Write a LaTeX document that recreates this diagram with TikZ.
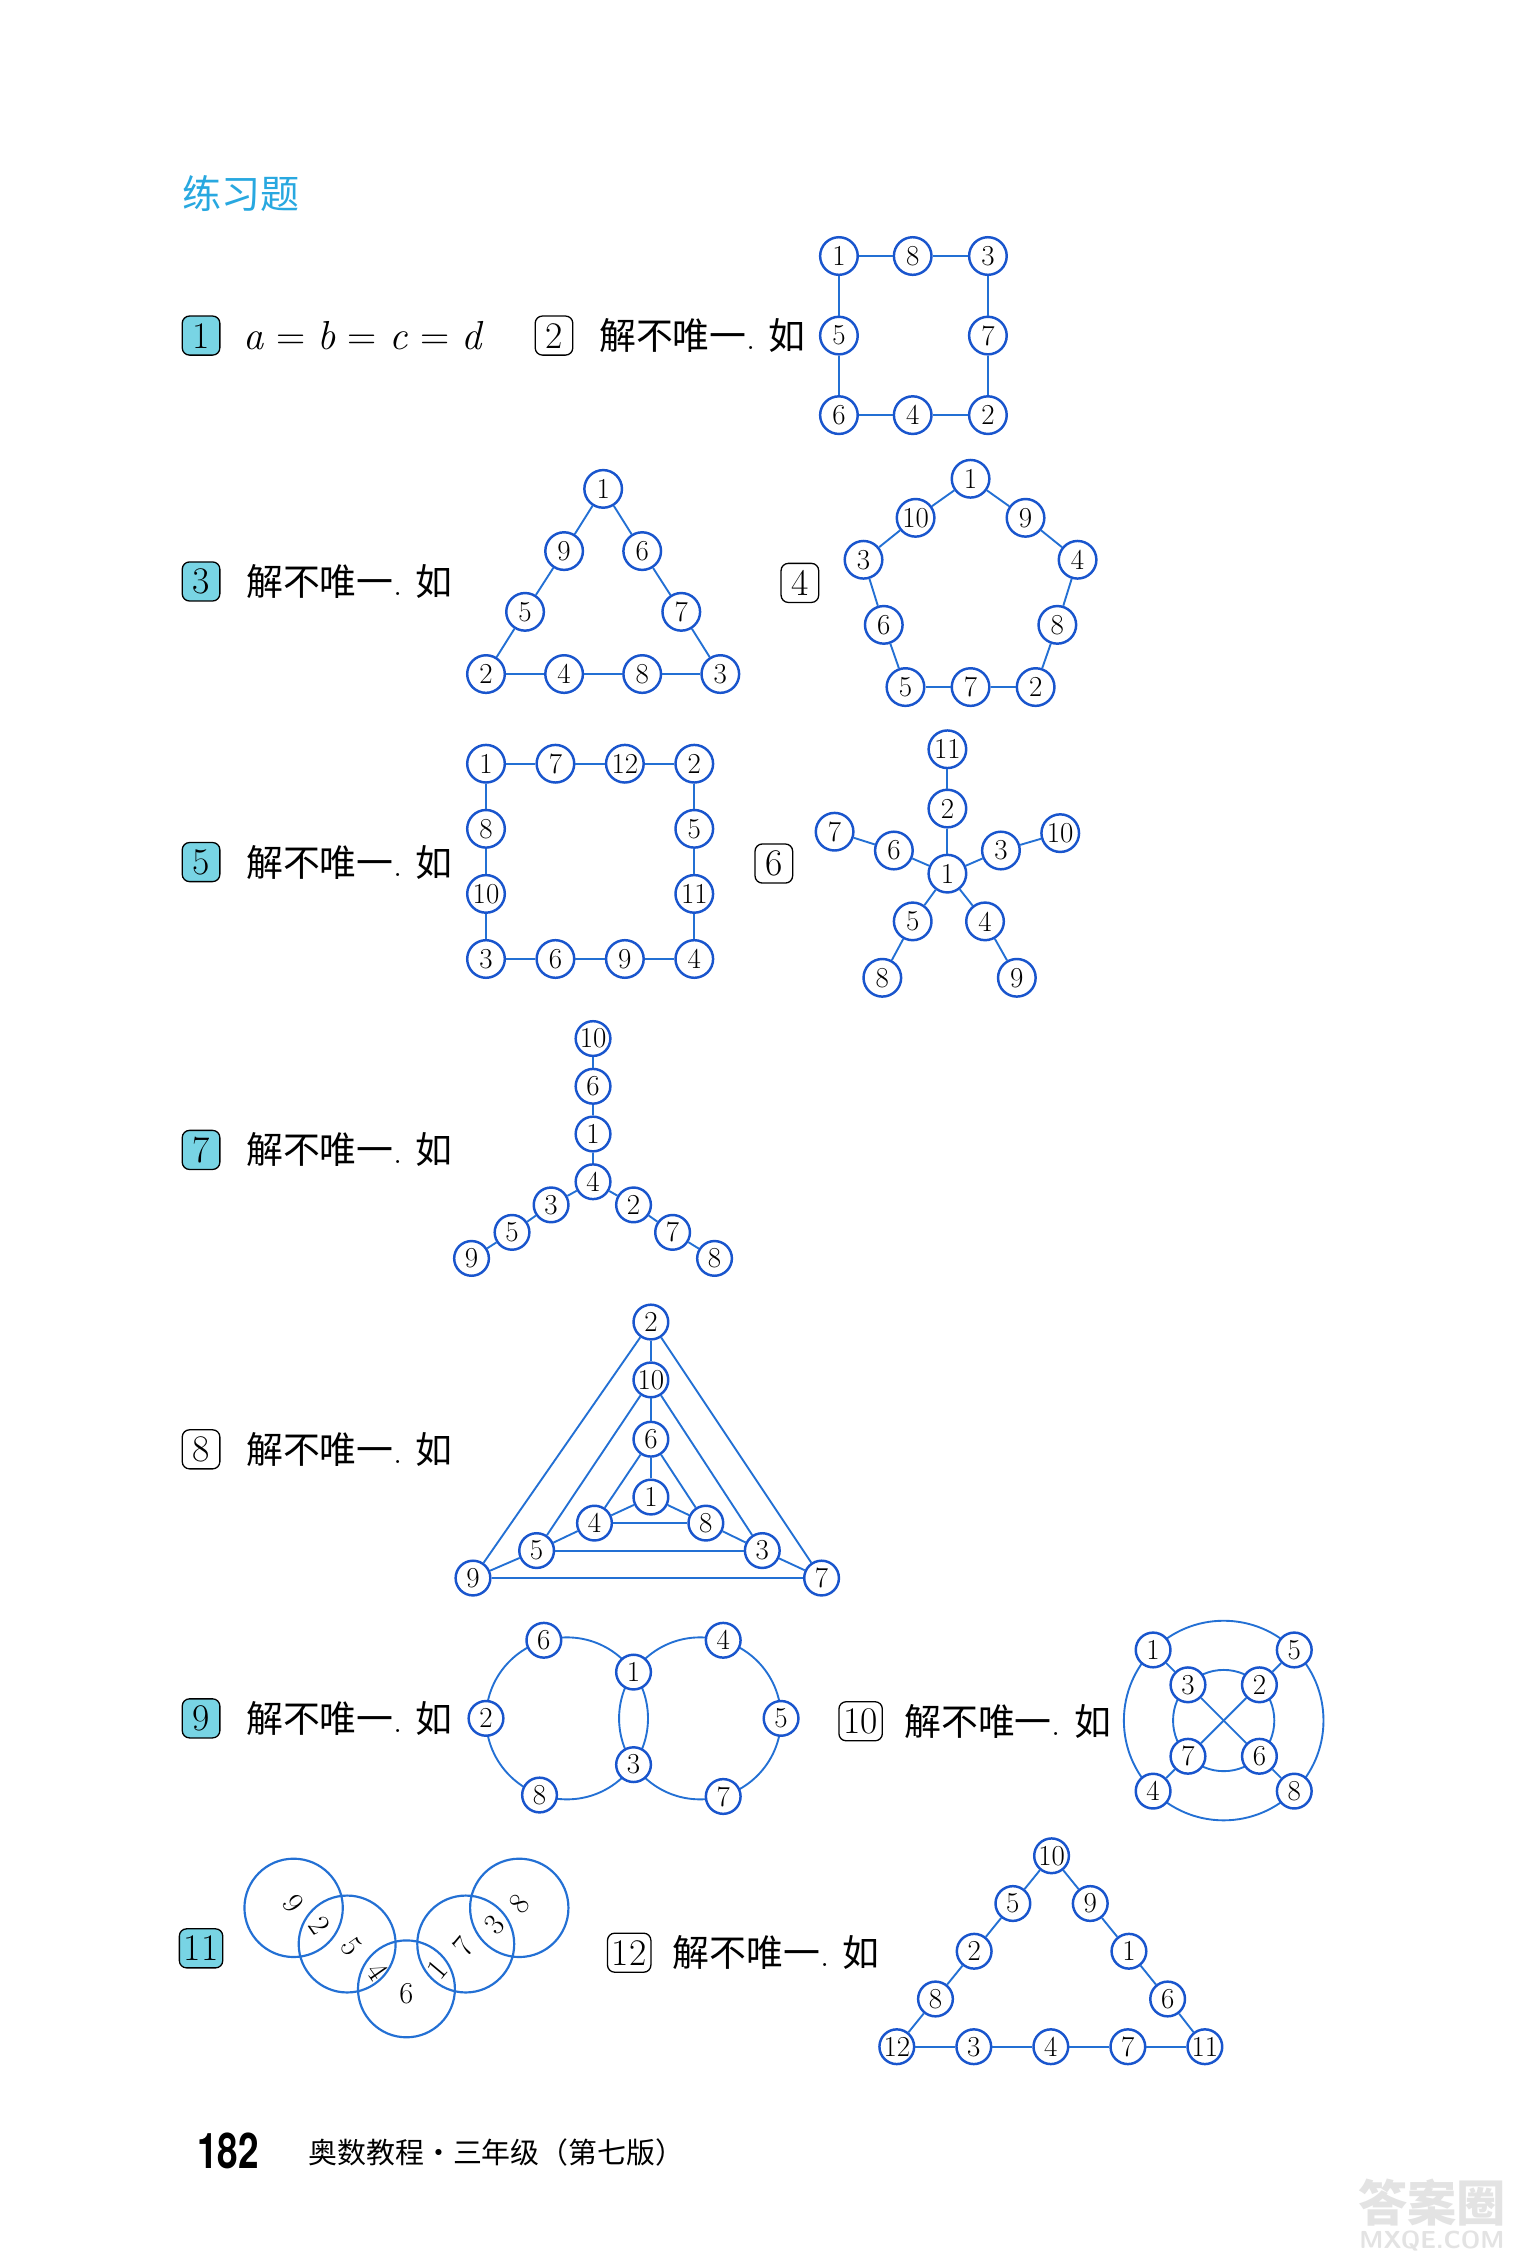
\documentclass[tikz,border=0pt]{standalone}
\usepackage{fontspec}
\usepackage{graphicx}
\newfontfamily\cjk{Noto Sans CJK SC}
\newfontfamily\herosf{TeX Gyre Heros}
\definecolor{nodeblue}{RGB}{25,85,205}
\definecolor{edgeblue}{RGB}{35,112,212}
\definecolor{titlecyan}{RGB}{40,168,224}
\definecolor{boxcyan}{RGB}{120,212,228}
\newcommand\numfs{\fontsize{20}{20}\selectfont}
\newcommand\jbwy{{\cjk 解不唯一}.\hspace{9pt}{\cjk 如}}
\newcommand\myeq{\hspace{0.3em}=\hspace{0.3em}}
\begin{document}
\begin{tikzpicture}[x=1pt,y=-1pt,
  n/.style={circle,draw=nodeblue,fill=white,line width=1.7pt,inner sep=0pt,minimum size=26pt,font=\numfs},
  ns/.style={n,minimum size=24pt},
  e/.style={draw=edgeblue,line width=1.3pt},
  hl/.style={rounded corners=5pt,draw=black,line width=0.9pt,fill=boxcyan,minimum width=26pt,minimum height=27pt,inner sep=0pt,font=\fontsize{26}{26}\selectfont},
  pl/.style={hl,fill=white},
  cn/.style={anchor=west,inner sep=0pt,font=\fontsize{25.5}{25.5}\selectfont},
  vd/.style={inner sep=0pt,font=\fontsize{21}{21}\selectfont}]
\fill[white] (0,0) rectangle (1055,1568);
\useasboundingbox (0,0) rectangle (1055,1568);

% title
\node[anchor=west,inner sep=0pt,text=titlecyan,font=\cjk\fontsize{27}{27}\selectfont] (title) at (126,134) {练习题};

% row 1 / 2
\node[hl] (L1) at (139,232) {1};
\node[anchor=west,inner sep=0pt,font=\fontsize{28}{28}\selectfont] (eq) at (168,232) {\textit{a}\myeq\textit{b}\myeq\textit{c}\myeq\textit{d}};
\node[pl] (L2) at (383,232) {2};
\node[cn] (t2) at (414,232) {\jbwy};
\node[n] (b1) at (580,177) {1};
\node[n] (b8) at (631,177) {8};
\node[n] (b3) at (683,177) {3};
\node[n] (b5) at (580,232) {5};
\node[n] (b7) at (683,232) {7};
\node[n] (b6) at (580,287) {6};
\node[n] (b4) at (631,287) {4};
\node[n] (b2) at (683,287) {2};
\foreach \a/\b in {b1/b8,b8/b3,b3/b7,b7/b2,b2/b4,b4/b6,b6/b5,b5/b1} \draw[e] (\a) -- (\b);

% row 3 / 4
\node[hl] (L3) at (139,402) {3};
\node[cn] (t3) at (170,402) {\jbwy};
\node[n] (c1) at (417,338) {1};
\node[n] (c9) at (390,381) {9};
\node[n] (c6) at (444,381) {6};
\node[n] (c5) at (363,423) {5};
\node[n] (c7) at (471,423) {7};
\node[n] (c2) at (336,466) {2};
\node[n] (c4) at (390,466) {4};
\node[n] (c8) at (444,466) {8};
\node[n] (c3) at (498,466) {3};
\foreach \a/\b in {c1/c9,c9/c5,c5/c2,c2/c4,c4/c8,c8/c3,c3/c7,c7/c6,c6/c1} \draw[e] (\a) -- (\b);

\node[pl] (L4) at (553,403) {4};
\node[n] (d1) at (671,331) {1};
\node[n] (d10) at (633,358) {10};
\node[n] (d9) at (709,358) {9};
\node[n] (d3) at (597,387) {3};
\node[n] (d4) at (745,387) {4};
\node[n] (d6) at (611,432) {6};
\node[n] (d8) at (731,432) {8};
\node[n] (d5) at (626,475) {5};
\node[n] (d7) at (671,475) {7};
\node[n] (d2) at (716,475) {2};
\foreach \a/\b in {d1/d10,d10/d3,d3/d6,d6/d5,d5/d7,d7/d2,d2/d8,d8/d4,d4/d9,d9/d1} \draw[e] (\a) -- (\b);

% row 5 / 6
\node[hl] (L5) at (139,596) {5};
\node[cn] (t5) at (170,596) {\jbwy};
\node[n] (e1) at (336,528) {1};
\node[n] (e7) at (384,528) {7};
\node[n] (e12) at (432,528) {12};
\node[n] (e2) at (480,528) {2};
\node[n] (e8) at (336,573) {8};
\node[n] (e5) at (480,573) {5};
\node[n] (e10) at (336,618) {10};
\node[n] (e11) at (480,618) {11};
\node[n] (e3) at (336,663) {3};
\node[n] (e6) at (384,663) {6};
\node[n] (e9) at (432,663) {9};
\node[n] (e4) at (480,663) {4};
\foreach \a/\b in {e1/e7,e7/e12,e12/e2,e2/e5,e5/e11,e11/e4,e4/e9,e9/e6,e6/e3,e3/e10,e10/e8,e8/e1} \draw[e] (\a) -- (\b);

\node[pl] (L6) at (535,597) {6};
\node[n] (f11) at (655,518) {11};
\node[n] (f2) at (655,559) {2};
\node[n] (f7) at (577,575) {7};
\node[n] (f6) at (618,588) {6};
\node[n] (f3) at (692,588) {3};
\node[n] (f10) at (733,576) {10};
\node[n] (f1) at (655,604) {1};
\node[n] (f5) at (631,637) {5};
\node[n] (f4) at (681,637) {4};
\node[n] (f8) at (610,676) {8};
\node[n] (f9) at (703,676) {9};
\foreach \a/\b in {f11/f2,f2/f1,f7/f6,f6/f1,f10/f3,f3/f1,f1/f5,f5/f8,f1/f4,f4/f9} \draw[e] (\a) -- (\b);

% row 7
\node[hl] (L7) at (139,795) {7};
\node[cn] (t7) at (170,795) {\jbwy};
\node[ns] (g10) at (410,718) {10};
\node[ns] (g6) at (410,751) {6};
\node[ns] (g1) at (410,784) {1};
\node[ns] (g4) at (410,817) {4};
\node[ns] (g3) at (381,833) {3};
\node[ns] (g5) at (354,852) {5};
\node[ns] (g9) at (326,870) {9};
\node[ns] (g2) at (438,833) {2};
\node[ns] (g7) at (465,852) {7};
\node[ns] (g8) at (494,870) {8};
\foreach \a/\b in {g10/g6,g6/g1,g1/g4,g4/g3,g3/g5,g5/g9,g4/g2,g2/g7,g7/g8} \draw[e] (\a) -- (\b);

% row 8
\node[pl] (L8) at (139,1002) {8};
\node[cn] (t8) at (170,1002) {\jbwy};
\node[ns] (h2) at (450,914) {2};
\node[ns] (h10) at (450,954) {10};
\node[ns] (h6) at (450,995) {6};
\node[ns] (h1) at (450,1035) {1};
\node[ns] (h4) at (411,1053) {4};
\node[ns] (h8) at (488,1053) {8};
\node[ns] (h5) at (371,1072) {5};
\node[ns] (h3) at (527,1072) {3};
\node[ns] (h9) at (327,1091) {9};
\node[ns] (h7) at (568,1091) {7};
\foreach \a/\b in {h2/h9,h2/h7,h9/h7,h2/h10,h10/h6,h6/h1,h10/h5,h10/h3,h5/h3,h6/h4,h6/h8,h4/h8,h1/h4,h4/h5,h5/h9,h1/h8,h8/h3,h3/h7} \draw[e] (\a) -- (\b);

% row 9 / 10
\node[hl] (L9) at (139,1188) {9};
\node[cn] (t9) at (170,1188) {\jbwy};
\draw[e] (392,1188) circle[radius=56pt];
\draw[e] (484,1188) circle[radius=56pt];
\node[ns] (i6) at (376,1134) {6};
\node[ns] (i2) at (336,1188) {2};
\node[ns] (i8) at (373,1241) {8};
\node[ns] (i1) at (438,1156) {1};
\node[ns] (i3) at (438,1220) {3};
\node[ns] (i4) at (500,1134) {4};
\node[ns] (i5) at (540,1188) {5};
\node[ns] (i7) at (500,1242) {7};

\node[pl,minimum width=30pt] (L10) at (595,1190) {10};
\node[cn] (t10) at (625,1190) {\jbwy};
\draw[e] (846,1189.5) circle[radius=69pt];
\draw[e] (846,1189.5) circle[radius=35pt];
\node[ns] (j1) at (797.2,1140.7) {1};
\node[ns] (j5) at (894.8,1140.7) {5};
\node[ns] (j4) at (797.2,1238.3) {4};
\node[ns] (j8) at (894.8,1238.3) {8};
\node[ns] (j3) at (821.3,1164.8) {3};
\node[ns] (j2) at (870.7,1164.8) {2};
\node[ns] (j7) at (821.3,1214.2) {7};
\node[ns] (j6) at (870.7,1214.2) {6};
\foreach \a/\b in {j1/j3,j5/j2,j4/j7,j8/j6,j3/j6,j2/j7} \draw[e] (\a) -- (\b);

% row 11 / 12
\node[hl,minimum width=30pt] (L11) at (139,1347) {11};
\draw[e,line width=1.5pt] (203,1319) circle[radius=34pt];
\draw[e,line width=1.5pt] (240,1344) circle[radius=33.5pt];
\draw[e,line width=1.5pt] (281,1375) circle[radius=33.5pt];
\draw[e,line width=1.5pt] (322,1344) circle[radius=33.5pt];
\draw[e,line width=1.5pt] (359,1319) circle[radius=34pt];
\node[vd,rotate=-55] (v9) at (203,1316) {9};
\node[vd,rotate=-55] (v2) at (221,1331) {2};
\node[vd,rotate=-55] (v5) at (243,1346) {5};
\node[vd,rotate=-55] (v4) at (261,1363) {4};
\node[vd] (v6) at (281,1378) {6};
\node[vd,rotate=50] (v1) at (302,1362) {1};
\node[vd,rotate=50] (v7) at (320,1346) {7};
\node[vd,rotate=50] (v3) at (342,1331) {3};
\node[vd,rotate=50] (v8) at (359,1316) {8};

\node[pl,minimum width=30pt] (L12) at (435,1350) {12};
\node[cn] (t12) at (465,1350) {\jbwy};
\node[ns] (k10) at (727,1283) {10};
\node[ns] (k5) at (700.25,1316) {5};
\node[ns] (k9) at (753.75,1316) {9};
\node[ns] (k2) at (673.5,1349) {2};
\node[ns] (k1) at (780.5,1349) {1};
\node[ns] (k8) at (646.75,1382) {8};
\node[ns] (k6) at (807.25,1382) {6};
\node[ns] (k12) at (620,1415) {12};
\node[ns] (k3) at (673.25,1415) {3};
\node[ns] (k4) at (726.5,1415) {4};
\node[ns] (k7) at (779.75,1415) {7};
\node[ns] (k11) at (833,1415) {11};
\foreach \a/\b in {k10/k5,k5/k2,k2/k8,k8/k12,k12/k3,k3/k4,k4/k7,k7/k11,k11/k6,k6/k1,k1/k9,k9/k10} \draw[e] (\a) -- (\b);

% footer
\node[anchor=west,inner sep=0pt,font=\herosf\bfseries\fontsize{34}{34}\selectfont] (pg) at (136,1487) {\scalebox{0.75}[1]{182}};
\node[anchor=west,inner sep=0pt,font=\cjk\fontsize{20}{20}\selectfont] (bk) at (213,1488) {奥数教程·三年级（第七版）};

% watermark
\node[inner sep=0pt,text=gray!22,font=\cjk\bfseries\fontsize{34}{34}\selectfont] (wm1) at (990,1523) {答案圈};
\node[inner sep=0pt,text=gray!22,font=\sffamily\bfseries\fontsize{17}{17}\selectfont] (wm2) at (990,1549) {MXQE.COM};
\end{tikzpicture}
\end{document}
